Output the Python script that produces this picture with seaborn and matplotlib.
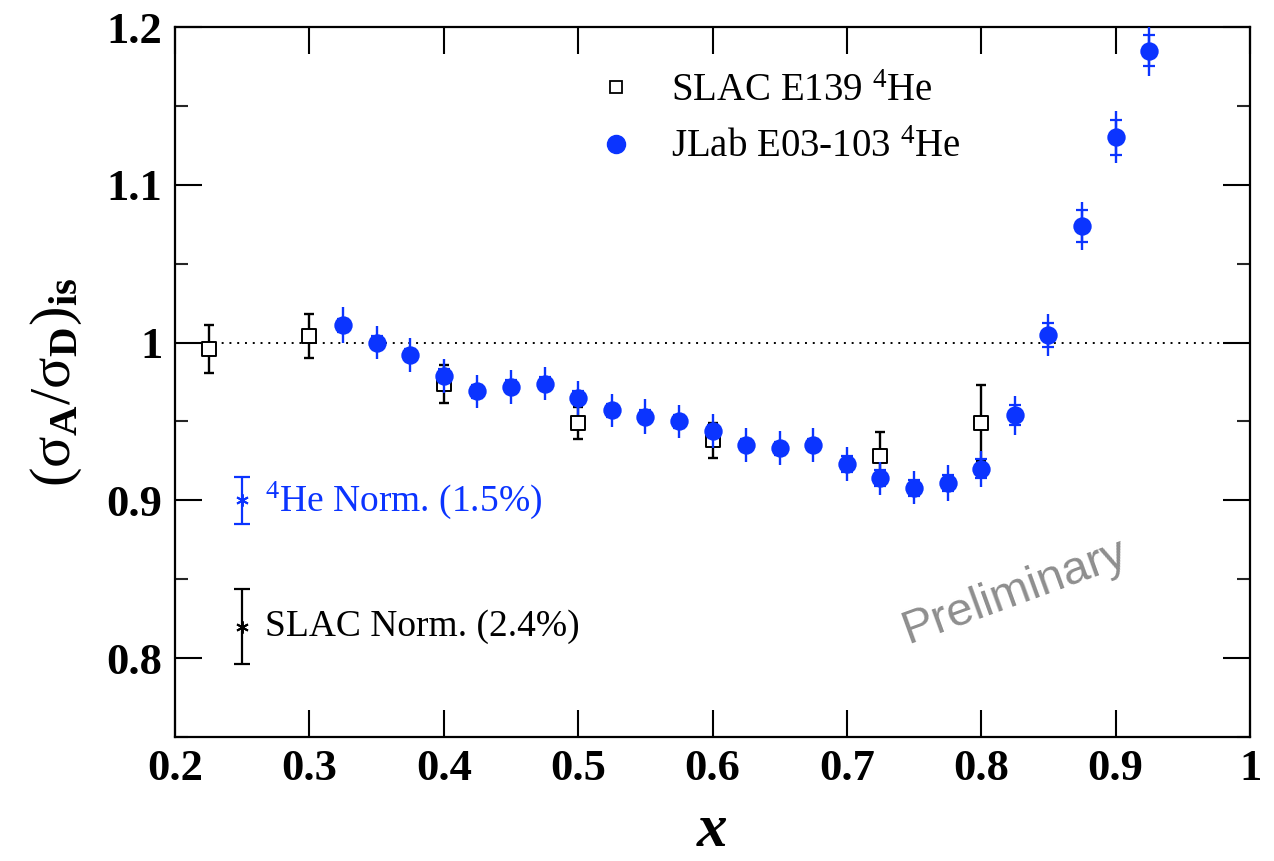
import numpy as np
import pandas as pd
import matplotlib
matplotlib.use("Agg")
import matplotlib.pyplot as plt
from matplotlib.lines import Line2D
from matplotlib.ticker import MultipleLocator
import seaborn as sns

# ---------------- data ----------------
slac_x = [0.225, 0.3, 0.4, 0.5, 0.6, 0.725, 0.8]
slac_y = [0.996, 1.004, 0.974, 0.949, 0.938, 0.928, 0.949]
slac_err = [0.015, 0.014, 0.012, 0.010, 0.011, 0.015, 0.024]

jlab_x = [0.325, 0.35, 0.375, 0.4, 0.425, 0.45, 0.475, 0.5, 0.525, 0.55,
          0.575, 0.6, 0.625, 0.65, 0.675, 0.7, 0.725, 0.75, 0.775, 0.8,
          0.825, 0.85, 0.875, 0.9, 0.925]
jlab_y = [1.011, 1.000, 0.992, 0.979, 0.969, 0.972, 0.974, 0.965, 0.957, 0.953,
          0.950, 0.944, 0.935, 0.933, 0.935, 0.923, 0.914, 0.908, 0.911, 0.920,
          0.954, 1.005, 1.074, 1.130, 1.185]
jlab_tot = [0.0114, 0.0107, 0.0108, 0.0108, 0.0106, 0.0108, 0.0106, 0.0106, 0.0106, 0.0110,
            0.0107, 0.0108, 0.0107, 0.0108, 0.0108, 0.0110, 0.0104, 0.0104, 0.0112, 0.0114,
            0.0124, 0.0134, 0.0154, 0.0165, 0.0158]
jlab_stat = [0.004, 0.004, 0.004, 0.004, 0.004, 0.004, 0.004, 0.004, 0.004, 0.004,
             0.004, 0.004, 0.004, 0.004, 0.004, 0.005, 0.005, 0.005, 0.005, 0.006,
             0.0063, 0.0076, 0.0100, 0.0110, 0.0098]

norm_x = [0.25, 0.25]
norm_y = [0.90, 0.82]
norm_err = [0.015, 0.024]
norm_labels = [r"$^{4}$He Norm. (1.5%)", r"SLAC Norm. (2.4%)"]

legend_labels = [r"SLAC E139 $^{4}$He", r"JLab E03-103 $^{4}$He"]

BLUE = "#0b34ff"

# ---------------- style ----------------
sns.set_theme(style="ticks")
plt.rcParams["font.family"] = ["Liberation Serif", "DejaVu Serif"]
plt.rcParams["mathtext.fontset"] = "custom"
plt.rcParams["mathtext.rm"] = "Liberation Serif"
plt.rcParams["mathtext.it"] = "Liberation Serif:italic"
plt.rcParams["mathtext.bf"] = "Liberation Serif:bold"
plt.rcParams["text.color"] = "black"
plt.rcParams["axes.labelcolor"] = "black"

fig = plt.figure(figsize=(12.74, 8.61), dpi=100)
W, H = 1274, 861
AW, AH = 1250 - 175, 737 - 27
ax = fig.add_axes([175 / W, 1 - 737 / H, AW / W, AH / H])

slac_df = pd.DataFrame({"x": slac_x, "y": slac_y, "err": slac_err})
jlab_df = pd.DataFrame({"x": jlab_x, "y": jlab_y, "tot": jlab_tot, "stat": jlab_stat})

# reference line
ax.axhline(1.0, color="black", ls=(0, (1, 3)), lw=1.4, zorder=1)

# SLAC
ax.errorbar(slac_df["x"], slac_df["y"], yerr=slac_df["err"], fmt="none",
            ecolor="black", elinewidth=1.7, capsize=3.5, capthick=1.7, zorder=2)
sns.scatterplot(data=slac_df, x="x", y="y", marker="s", s=90, color="white",
                edgecolor="black", linewidth=1.4, ax=ax, legend=False, zorder=3)

# JLab
ax.errorbar(jlab_df["x"], jlab_df["y"], yerr=jlab_df["tot"], fmt="none",
            ecolor=BLUE, elinewidth=1.7, capsize=0, zorder=4)
ax.errorbar(jlab_df["x"], jlab_df["y"], yerr=jlab_df["stat"], fmt="none",
            ecolor=BLUE, elinewidth=1.7, capsize=4, capthick=1.6, zorder=4)
sns.scatterplot(data=jlab_df, x="x", y="y", marker="o", s=175, color=BLUE,
                edgecolor=BLUE, linewidth=0, ax=ax, legend=False, zorder=5)

# normalisation indicators
norm_colors = [BLUE, "black"]
for nx, ny, ne, lab, c in zip(norm_x, norm_y, norm_err, norm_labels, norm_colors):
    ax.errorbar([nx], [ny], yerr=[ne], fmt="none", ecolor=c, elinewidth=1.6,
                capsize=6, capthick=1.6, zorder=4)
    ax.plot([nx], [ny], marker=(6, 2, 0), ms=9, mew=1.4, color=c, ls="none", zorder=5)
    ax.text(nx + 0.017, ny, lab, color=c, fontsize=27, va="center", ha="left")

# Preliminary
ax.text(0.825, 0.842, "Preliminary", color="#8e8e8e", fontsize=34,
        family="Liberation Sans", rotation=20, ha="center", va="center",
        rotation_mode="anchor")

# legend
handles = [
    Line2D([], [], marker="s", ls="none", mfc="white", mec="black", ms=9, mew=1.3),
    Line2D([], [], marker="o", ls="none", mfc=BLUE, mec=BLUE, ms=13),
]
leg = ax.legend(handles, legend_labels, loc="upper left",
                bbox_to_anchor=(597 / W, 1 - 73 / H), bbox_transform=fig.transFigure,
                frameon=False, fontsize=28, handlelength=1.0, handletextpad=0.9,
                labelspacing=0.5, borderpad=0, borderaxespad=0)

# axes
ax.set_xlim(0.2, 1.0)
ax.set_ylim(0.75, 1.2)
ax.yaxis.set_minor_locator(MultipleLocator(0.05))
ax.set_xticks([0.2, 0.3, 0.4, 0.5, 0.6, 0.7, 0.8, 0.9, 1.0])
ax.set_xticklabels(["0.2", "0.3", "0.4", "0.5", "0.6", "0.7", "0.8", "0.9", "1"])
ax.set_yticks([0.8, 0.9, 1.0, 1.1, 1.2])
ax.set_yticklabels(["0.8", "0.9", "1", "1.1", "1.2"])
ax.tick_params(axis="both", which="major", direction="in", length=19.5, width=1.5,
               top=True, right=True, labelsize=32, pad=9, color="black",
               labelcolor="black")
ax.tick_params(axis="y", which="minor", direction="in", length=9.5, width=1.5,
               left=True, right=True)
ax.tick_params(axis="x", which="minor", bottom=False, top=False)
for lab in ax.get_xticklabels() + ax.get_yticklabels():
    lab.set_fontweight("bold")
for sp in ax.spines.values():
    sp.set_linewidth(1.6)
    sp.set_color("black")
    sp.set_visible(True)

ax.set_xlabel("x", fontsize=44, fontweight="bold", fontstyle="italic")
ax.set_ylabel(r"$(\mathrm{\sigma}_{\mathbf{A}}/\mathrm{\sigma}_{\mathbf{D}})_{\mathbf{is}}$",
              fontsize=42)
ax.yaxis.set_label_coords(-(175 - 84) / AW, (737 - 382) / AH)
ax.xaxis.set_label_coords((712 - 175) / AW, -(803 - 737) / AH)

fig.savefig("out.png", dpi=100)
